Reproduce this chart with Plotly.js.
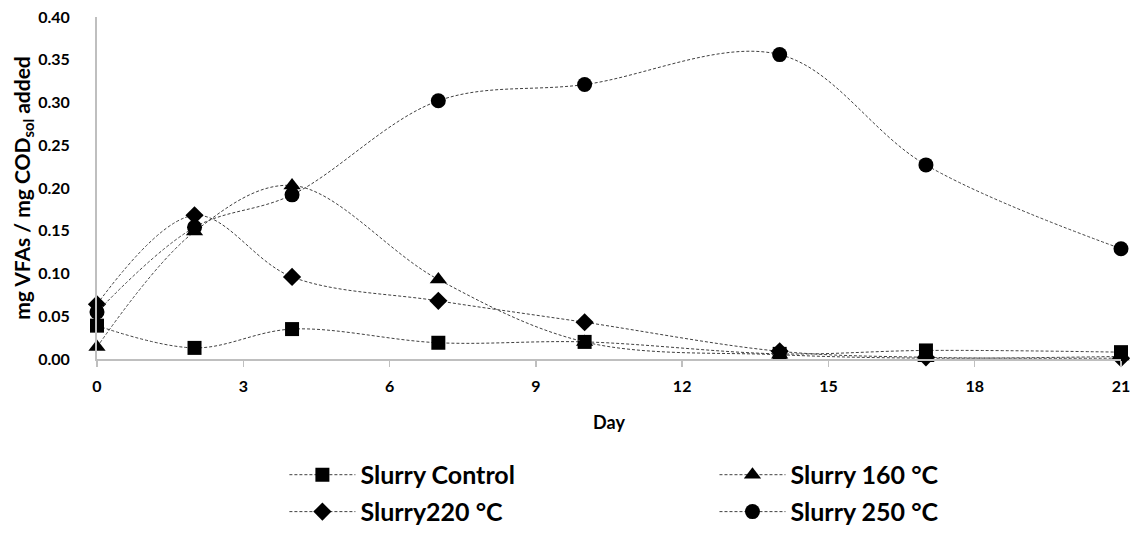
<!DOCTYPE html>
<html>
<head>
<meta charset="utf-8">
<script src="https://cdn.plot.ly/plotly-3.0.1.min.js"></script>
<style>
  html, body { margin: 0; padding: 0; background: #fff; }
  #chart { width: 1141px; height: 534px; }
</style>
</head>
<body>
<div id="chart"></div>
<script>
// Sampling days
const days = [0, 2, 4, 7, 10, 14, 17, 21];

// mg VFAs per mg soluble COD added
const slurryControl = [0.039, 0.013, 0.035, 0.019, 0.020, 0.006, 0.010, 0.008];
const slurry160 = [0.014, 0.149, 0.203, 0.093, 0.020, 0.005, 0.001, 0.003];
const slurry220 = [0.064, 0.168, 0.096, 0.068, 0.043, 0.009, 0.002, 0.001];
const slurry250 = [0.055, 0.154, 0.192, 0.302, 0.321, 0.356, 0.227, 0.129];

const seriesNames = ['Slurry Control', 'Slurry 160 °C', 'Slurry220 °C', 'Slurry 250 °C'];
const seriesValues = [slurryControl, slurry160, slurry220, slurry250];
const seriesSymbols = ['square', 'triangle-up', 'diamond', 'circle'];
const symbolSizes = [14, 15, 14, 15];

// one legend box per series, laid out as a 2 x 2 grid under the axis
const legendIds = ['legend', 'legend2', 'legend3', 'legend4'];
const legendX = [0.183, 0.603, 0.183, 0.603];
const legendY = [-0.339, -0.339, -0.447, -0.447];

const FONT = 'Lato, "Open Sans", sans-serif';

const traces = seriesNames.map((name, i) => ({
  x: days,
  y: seriesValues[i],
  name: name,
  legend: legendIds[i],
  type: 'scatter',
  mode: 'lines+markers',
  cliponaxis: false,
  line: { shape: 'spline', smoothing: 1, color: '#404040', width: 1, dash: '3px,2px' },
  marker: { symbol: seriesSymbols[i], size: symbolSizes[i], color: '#000000' }
}));

const legendStyle = (i) => ({
  orientation: 'h',
  x: legendX[i],
  xanchor: 'left',
  y: legendY[i],
  yanchor: 'middle',
  itemwidth: 66,
  font: { family: FONT, size: 25, color: '#000', weight: 'bold' },
  bgcolor: 'rgba(0,0,0,0)',
  borderwidth: 0
});

const layout = {
  width: 1141,
  height: 534,
  paper_bgcolor: '#ffffff',
  plot_bgcolor: '#ffffff',
  margin: { l: 97, r: 20, t: 17, b: 175, autoexpand: false },
  font: { family: FONT, color: '#000000' },
  showlegend: true,
  xaxis: {
    range: [0, 21],
    tickvals: [0, 3, 6, 9, 12, 15, 18, 21],
    ticktext: ['0', '3', '6', '9', '12', '15', '18', '21'],
    automargin: false,
    showgrid: false,
    zeroline: false,
    showline: true,
    linecolor: '#bfbfbf',
    linewidth: 2,
    ticks: 'outside',
    ticklen: 6,
    tickwidth: 1.5,
    tickcolor: '#bfbfbf',
    ticklabelstandoff: 6,
    tickfont: { family: FONT, size: 16, color: '#000', weight: 'bold' },
    title: { text: '<b>Day</b>', font: { family: FONT, size: 18, color: '#000' }, standoff: 22 }
  },
  yaxis: {
    range: [0, 0.4],
    dtick: 0.05,
    tickformat: '.2f',
    automargin: false,
    showgrid: false,
    zeroline: false,
    showline: true,
    linecolor: '#bfbfbf',
    linewidth: 2,
    ticks: '',
    ticklabelstandoff: 22,
    tickfont: { family: FONT, size: 16, color: '#000', weight: 'bold' },
    title: {
      text: '<b>mg VFAs / mg COD<sub>sol</sub> added</b>',
      font: { family: FONT, size: 21, color: '#000' },
      standoff: 2
    }
  }
};
legendIds.forEach((id, i) => { layout[id] = legendStyle(i); });

Plotly.newPlot('chart', traces, layout, { displayModeBar: false, staticPlot: true });
</script>
</body>
</html>
